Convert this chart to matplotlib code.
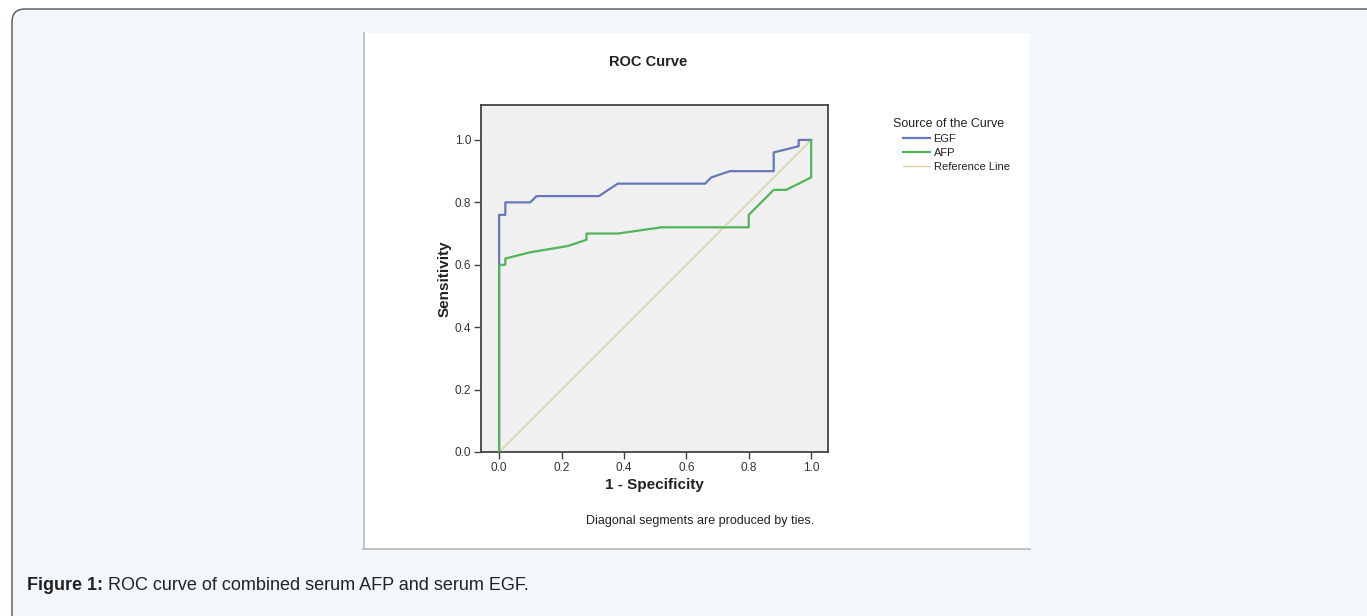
import matplotlib
matplotlib.use("Agg")
import matplotlib.pyplot as plt
from matplotlib.patches import FancyBboxPatch, Rectangle

plt.rcParams["font.family"] = ["Liberation Sans", "DejaVu Sans"]

# ROC data
egf_fpr = [0.0, 0.0, 0.02, 0.02, 0.10, 0.12, 0.32, 0.38, 0.66, 0.68, 0.74, 0.88, 0.88, 0.96, 0.96, 1.0]
egf_tpr = [0.0, 0.76, 0.76, 0.80, 0.80, 0.82, 0.82, 0.86, 0.86, 0.88, 0.90, 0.90, 0.96, 0.98, 1.0, 1.0]

afp_fpr = [0.0, 0.0, 0.02, 0.02, 0.10, 0.22, 0.28, 0.28, 0.38, 0.52, 0.80, 0.80, 0.88, 0.92, 1.0, 1.0]
afp_tpr = [0.0, 0.60, 0.60, 0.62, 0.64, 0.66, 0.68, 0.70, 0.70, 0.72, 0.72, 0.76, 0.84, 0.84, 0.88, 1.0]

ref_x = [0.0, 1.0]
ref_y = [0.0, 1.0]

ticks = [0.0, 0.2, 0.4, 0.6, 0.8, 1.0]
tick_labels = ["0.0", "0.2", "0.4", "0.6", "0.8", "1.0"]

EGF_C = "#6678b8"
AFP_C = "#52b55a"
REF_C = "#d9d0a6"
PAGE = "#f2f7fa"

W, H = 1367, 616
fig = plt.figure(figsize=(W / 100, H / 100), dpi=100, facecolor="white")

# page background, drawn in pixel coords (y down)
bg = fig.add_axes([0, 0, 1, 1], zorder=-5)
bg.set_xlim(0, W)
bg.set_ylim(H, 0)
bg.axis("off")
bg.add_patch(FancyBboxPatch((12, 9), 1370, 630,
                            boxstyle="round,pad=0,rounding_size=13",
                            facecolor=PAGE, edgecolor="#555555", lw=1.0))
# white chart panel, grey left / bottom edge
bg.add_patch(Rectangle((363, 33), 667, 516, facecolor="white", edgecolor="none"))
bg.plot([363.5, 363.5], [33, 549], color="#b8b8b8", lw=1.2)
bg.plot([363, 1030], [549, 549], color="#b8b8b8", lw=1.2)

# caption
cap1 = bg.text(27, 585, "Figure 1:", fontsize=13, fontweight="bold", color="#222222",
               va="center", ha="left")
bg.text(108, 585, "ROC curve of combined serum AFP and serum EGF.", fontsize=13,
        color="#222222", va="center", ha="left")

# chart texts
bg.text(648, 62, "ROC Curve", fontsize=10.5, fontweight="bold", color="#222222",
        ha="center", va="center")
bg.text(700, 521, "Diagonal segments are produced by ties.", fontsize=9,
        color="#222222", ha="center", va="center")
bg.text(893, 124, "Source of the Curve", fontsize=9, color="#222222",
        ha="left", va="center")

# main axes
ax = fig.add_axes([481 / W, 1 - 452 / H, (828 - 481) / W, (452 - 105) / H])
ax.set_facecolor("#f0f0f0")
l_ref, = ax.plot(ref_x, ref_y, color=REF_C, lw=1.0, label="Reference Line", zorder=2)
l_egf, = ax.plot(egf_fpr, egf_tpr, color=EGF_C, lw=1.6, label="EGF", zorder=3)
l_afp, = ax.plot(afp_fpr, afp_tpr, color=AFP_C, lw=1.6, label="AFP", zorder=4)

ax.set_xlim(-0.058, 1.054)
ax.set_ylim(0.0, 1.112)
ax.set_xticks(ticks)
ax.set_xticklabels(tick_labels)
ax.set_yticks(ticks)
ax.set_yticklabels(tick_labels)
ax.tick_params(direction="out", length=5, width=1.0, colors="#444444",
               labelsize=8.5, labelcolor="#333333", pad=2)
for s in ax.spines.values():
    s.set_color("#444444")
    s.set_linewidth(1.3)

ax.set_xlabel("1 - Specificity", fontsize=11, fontweight="bold", color="#222222",
              labelpad=3)
ax.set_ylabel("Sensitivity", fontsize=11, fontweight="bold", color="#222222",
              labelpad=2)

leg = ax.legend([l_egf, l_afp, l_ref], ["EGF", "AFP", "Reference Line"],
                loc="upper left", bbox_to_anchor=(903, 134),
                bbox_transform=bg.transData, frameon=False, fontsize=8,
                handlelength=2.4, handletextpad=0.35, labelspacing=0.35,
                borderaxespad=0, borderpad=0)
for t in leg.get_texts():
    t.set_color("#222222")

fig.savefig("out.png", dpi=100, facecolor=fig.get_facecolor())
